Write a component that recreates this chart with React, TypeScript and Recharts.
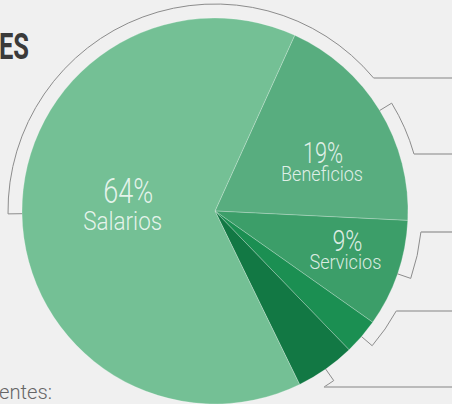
import React from 'react';
import { PieChart, Pie, Cell } from 'recharts';

// ─── Data ──────────────────────────────────────────────────────────────────────
const NAMES = ['Beneficios', 'Servicios', 'Mantenimiento', 'Otros', 'Salarios'];
const VALUES = [19, 9, 3, 5, 64];
const COLORS = ['#58ad7f', '#3c9e69', '#1b8f52', '#127844', '#74c095'];

const DATA = NAMES.map((name, i) => ({ name, value: VALUES[i] }));

// ─── Layout ────────────────────────────────────────────────────────────────────
const W = 452;
const H = 404;
const CX = 215;
const CY = 211;
const R = 193;
const LEADER_R = R + 14;
const RAD = Math.PI / 180;
const FONT = 'Roboto, "Noto Sans", sans-serif';

// rows where the leader lines run off to the right
const LEADER_Y: Record<string, number> = {
  Salarios: 78, Beneficios: 154, Servicios: 232, Mantenimiento: 311, Otros: 387,
};

// text placement inside slices (radius, angle tweak, sizes, compressed widths)
const LABEL_CFG: Record<string, any> = {
  Salarios:   { r: 90,  adj: -4,   pct: 35, nm: 26, pctW: 50, nmW: 79, pctDy: -3, nmDy: 24, pctDx: 3, nmDx: -2.5 },
  Beneficios: { r: 117, adj: -8.2, pct: 29, nm: 20, pctW: 40, nmW: 82, pctDy: -2, nmDy: 16, pctDx: 0.5, nmDx: -0.5 },
  Servicios:  { r: 138, adj: 1.2,  pct: 29, nm: 20, pctW: 30, nmW: 72, pctDy: -2, nmDy: 16, pctDx: 1, nmDx: -1 },
};

const polar = (cx: number, cy: number, r: number, a: number) =>
  [cx + r * Math.cos(-a * RAD), cy + r * Math.sin(-a * RAD)];

const renderLabel = (props: any) => {
  const { cx, cy, midAngle, outerRadius, percent, name } = props;
  let mid = midAngle;
  while (mid <= -90) mid += 360;
  while (mid > 270) mid -= 360;

  const ly = LEADER_Y[name];
  const lr = outerRadius + 14;
  const [x0, y0] = polar(cx, cy, outerRadius, mid);
  const [x1, y1] = polar(cx, cy, lr, mid);
  const endA = Math.asin((cy - ly) / lr) / RAD;
  const [x2, y2] = polar(cx, cy, lr, endA);
  const sweep = endA < mid ? 1 : 0;
  const large = Math.abs(mid - endA) > 180 ? 1 : 0;

  const cfg = LABEL_CFG[name];
  let text = null;
  if (cfg) {
    const [ax, ay] = polar(cx, cy, cfg.r, mid + cfg.adj);
    text = (
      <g fill="#ffffff" fillOpacity={0.82} fontFamily={FONT} fontWeight={300} textAnchor="middle">
        <text x={ax + cfg.pctDx} y={ay + cfg.pctDy} fontSize={cfg.pct}
          textLength={cfg.pctW} lengthAdjust="spacingAndGlyphs">
          {`${Math.round(percent * 100)}%`}
        </text>
        <text x={ax + cfg.nmDx} y={ay + cfg.nmDy} fontSize={cfg.nm}
          textLength={cfg.nmW} lengthAdjust="spacingAndGlyphs">
          {name}
        </text>
      </g>
    );
  }

  return (
    <g key={`lbl-${name}`}>
      <path
        d={`M${x0},${y0} L${x1},${y1} A${lr},${lr} 0 ${large} ${sweep} ${x2},${y2}`}
        fill="none" stroke="#8c8c8c" strokeWidth={1}
      />
      <line x1={x2} y1={ly} x2={W} y2={ly} stroke="#a8a8a8" strokeWidth={1.6} />
      {text}
    </g>
  );
};

export default function App() {
  return (
    <div style={{ position: 'absolute', left: 0, top: 0, width: W, height: H, background: '#f0f0f0', overflow: 'hidden' }}>
      <PieChart width={W} height={H} margin={{ top: 0, right: 0, bottom: 0, left: 0 }}>
        <Pie
          data={DATA}
          dataKey="value"
          nameKey="name"
          cx={CX}
          cy={CY}
          outerRadius={R}
          startAngle={65.6}
          endAngle={65.6 - 360}
          stroke="#ffffff"
          strokeOpacity={0.3}
          strokeWidth={0.8}
          label={renderLabel}
          labelLine={false}
          isAnimationActive={false}
        >
          {DATA.map((d, i) => <Cell key={d.name} fill={COLORS[i]} />)}
        </Pie>
      </PieChart>
      <svg width={W} height={H} style={{ position: 'absolute', left: 0, top: 0, pointerEvents: 'none' }}>
        <text x={-1} y={59} fontFamily={FONT} fontWeight={700} fontSize={36} fill="#3a3a3a"
          textLength={30} lengthAdjust="spacingAndGlyphs">ES</text>
        <text x={-1} y={399} fontFamily={FONT} fontWeight={300} fontSize={21} fill="#666666"
          textLength={53} lengthAdjust="spacingAndGlyphs">entes:</text>
      </svg>
    </div>
  );
}
